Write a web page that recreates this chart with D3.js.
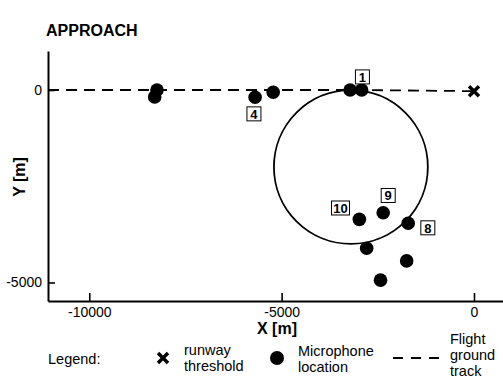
<!DOCTYPE html>
<html>
<head>
<meta charset="utf-8">
<script src="https://cdn.jsdelivr.net/npm/d3@7"></script>
<style>
  body { margin: 0; background: #fff; }
  text { font-family: "Liberation Sans", Arial, sans-serif; fill: #000; }
</style>
</head>
<body>
<svg id="chart" width="503" height="383"></svg>
<script>
// microphone positions [m]
var micX = [-8240, -8300, -5690, -5220, -3220, -2920, -2980, -2360, -1710, -2790, -1750, -2430];
var micY = [0, -180, -190, -60, 0, 0, -3360, -3190, -3460, -4110, -4440, -4940];
var micLabel = ["", "", "4", "", "", "1", "10", "9", "8", "", "", ""];
// label box anchors [m]
var labelX = [0, 0, -5720, 0, 0, -2900, -3470, -2230, -1200, 0, 0, 0];
var labelY = [0, 0, -620, 0, 0, 340, -3065, -2740, -3580, 0, 0, 0];

// flight ground track and runway threshold
var trackX = [-11073, -3000, 0];
var trackY = [0, 0, -30];
var thresholdX = 0;
var thresholdY = -30;

// circle of interest
var circleCX = -3200;
var circleCY = -2000;
var circleR = 2000;

var xMajor = [-10000, -5000, 0];
var xMinor = [-11000, -9000, -8000, -7000, -6000, -4000, -3000, -2000, -1000];
var yMajor = [0, -5000];
var yMinor = [-1000, -2000, -3000, -4000];

var svg = d3.select("#chart");

var x = d3.scaleLinear().domain([-11073, 754]).range([48, 503]);
var y = d3.scaleLinear().domain([1013, -5481]).range([51, 301]);

var fmt = function (d) { return d3.format("d")(d).replace("−", "-"); };

// title
svg.append("text")
	.attr("x", 46).attr("y", 36)
	.style("font-size", "16px").style("font-weight", "bold")
	.text("APPROACH");

// axes
var gx = svg.append("g").attr("transform", "translate(0," + y.range()[1] + ")");
gx.call(d3.axisBottom(x).tickValues(xMinor).tickSize(-5).tickSizeOuter(0).tickFormat(""));
gx.call(d3.axisBottom(x).tickValues(xMajor).tickSize(-8).tickSizeOuter(0).tickPadding(6).tickFormat(fmt));

var gy = svg.append("g").attr("transform", "translate(" + x.range()[0] + ",0)");
gy.call(d3.axisLeft(y).tickValues(yMinor).tickSize(-4).tickSizeOuter(0).tickFormat(""));
gy.call(d3.axisLeft(y).tickValues(yMajor).tickSize(-7).tickSizeOuter(0).tickPadding(6).tickFormat(fmt));

svg.selectAll(".domain").attr("stroke", "#000").attr("stroke-width", 2);
svg.selectAll(".tick line").attr("stroke", "#000").attr("stroke-width", 1.6);
svg.selectAll(".tick text").style("font-size", "14px").attr("fill", "#000");

// axis titles
svg.append("text")
	.attr("x", 277).attr("y", 334)
	.attr("text-anchor", "middle")
	.style("font-size", "16px").style("font-weight", "bold")
	.text("X [m]");
svg.append("text")
	.attr("transform", "translate(25,177) rotate(-90)")
	.attr("text-anchor", "middle")
	.style("font-size", "16px").style("font-weight", "bold")
	.text("Y [m]");

// circle
svg.append("circle")
	.attr("cx", x(circleCX)).attr("cy", y(circleCY))
	.attr("r", x(circleR) - x(0))
	.attr("fill", "none").attr("stroke", "#000").attr("stroke-width", 1.8);

// flight track
var track = d3.range(trackX.length).map(function (i) { return [x(trackX[i]), y(trackY[i])]; });
svg.append("path")
	.attr("d", d3.line()(track))
	.attr("fill", "none").attr("stroke", "#000").attr("stroke-width", 1.8)
	.attr("stroke-dasharray", "11,7");

// threshold cross
function cross(g, cx, cy, s) {
	g.append("path")
		.attr("d", "M" + (cx - s) + "," + (cy - s) + "L" + (cx + s) + "," + (cy + s) +
			"M" + (cx - s) + "," + (cy + s) + "L" + (cx + s) + "," + (cy - s))
		.attr("stroke", "#000").attr("stroke-width", 3.5).attr("fill", "none");
}
cross(svg, x(thresholdX), y(thresholdY), 5);

// microphones
svg.selectAll("circle.mic")
	.data(d3.range(micX.length))
	.enter().append("circle")
	.attr("class", "mic")
	.attr("cx", function (i) { return x(micX[i]); })
	.attr("cy", function (i) { return y(micY[i]); })
	.attr("r", 6.8)
	.attr("fill", "#000");

// label boxes
var labelled = d3.range(micX.length).filter(function (i) { return micLabel[i] !== ""; });
var lab = svg.selectAll("g.lab")
	.data(labelled)
	.enter().append("g")
	.attr("class", "lab")
	.attr("transform", function (i) { return "translate(" + x(labelX[i]) + "," + y(labelY[i]) + ")"; });
lab.append("rect")
	.attr("x", function (i) { return micLabel[i].length > 1 ? -9 : -7; })
	.attr("y", -7)
	.attr("width", function (i) { return micLabel[i].length > 1 ? 18 : 14; })
	.attr("height", 14)
	.attr("fill", "#fff").attr("stroke", "#000").attr("stroke-width", 1);
lab.append("text")
	.attr("text-anchor", "middle")
	.attr("y", 5)
	.style("font-size", "13px").style("font-weight", "bold")
	.text(function (i) { return micLabel[i]; });

// legend
var leg = svg.append("g").style("font-size", "14.5px");
leg.append("text").attr("x", 48).attr("y", 364).text("Legend:");
cross(leg, 163, 358, 5);
leg.append("text").attr("x", 184).attr("y", 355).text("runway");
leg.append("text").attr("x", 184).attr("y", 371).text("threshold");
leg.append("circle").attr("cx", 277).attr("cy", 358).attr("r", 7).attr("fill", "#000");
leg.append("text").attr("x", 298).attr("y", 356).text("Microphone");
leg.append("text").attr("x", 298).attr("y", 372).text("location");
leg.append("line")
	.attr("x1", 393).attr("x2", 441).attr("y1", 358).attr("y2", 358)
	.attr("stroke", "#000").attr("stroke-width", 1.8).attr("stroke-dasharray", "10,8");
leg.append("text").attr("x", 450).attr("y", 344).text("Flight");
leg.append("text").attr("x", 450).attr("y", 360).text("ground");
leg.append("text").attr("x", 450).attr("y", 376).text("track");
</script>
</body>
</html>
